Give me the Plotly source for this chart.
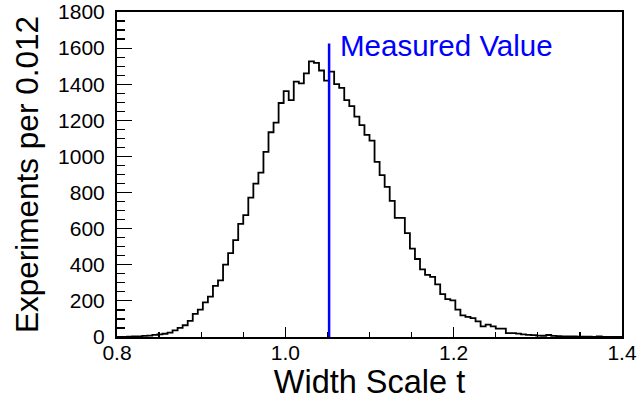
import plotly.graph_objects as go

# Histogram definition: 100 bins from 0.8 to 1.4
bin_lo = 0.8
bin_width = 0.006
counts = [
    1, 1, 2, 3, 4, 6, 8, 12, 14, 18,
    24, 37, 50, 65, 89, 128, 152, 192, 224, 283,
    314, 401, 464, 537, 627, 675, 772, 850, 910, 1025,
    1134, 1187, 1296, 1362, 1312, 1414, 1405, 1460, 1527, 1518,
    1476, 1420, 1470, 1400, 1380, 1312, 1279, 1220, 1174, 1120,
    1088, 970, 896, 832, 754, 660, 660, 575, 490, 432,
    374, 344, 333, 292, 238, 210, 203, 152, 120, 111,
    104, 87, 59, 69, 59, 46, 46, 22, 22, 19,
    15, 12, 10, 8, 7, 11, 6, 5, 4, 3,
    3, 2, 2, 2, 1, 3, 1, 1, 0, 1,
]
measured_value = 1.052
measured_line_top = 1625
measured_label = "Measured Value"

x_title = "Width Scale t"
y_title = "Experiments per 0.012"

edges = [bin_lo + i * bin_width for i in range(len(counts) + 1)]
step_x = [edges[0]] + edges
step_y = [0] + counts + [counts[-1]]

font_family = "Liberation Sans, Arial, sans-serif"

fig = go.Figure()
fig.add_trace(go.Scatter(
    x=step_x, y=step_y, mode="lines",
    line=dict(color="black", width=1.8, shape="hv"),
    hoverinfo="skip", showlegend=False,
))
fig.add_trace(go.Scatter(
    x=[measured_value, measured_value], y=[0, measured_line_top], mode="lines",
    line=dict(color="#0000ff", width=2.5),
    hoverinfo="skip", showlegend=False,
))
fig.add_annotation(
    x=measured_value + 0.011, y=1612, xref="x", yref="y",
    text=measured_label, showarrow=False, xanchor="left", yanchor="middle",
    font=dict(family=font_family, size=29.5, color="#0000ff"),
)

fig.update_layout(
    width=638, height=418,
    margin=dict(l=117, r=16, t=12, b=81),
    paper_bgcolor="white", plot_bgcolor="white",
    font=dict(family=font_family, size=21, color="black"),
    showlegend=False,
)
fig.update_xaxes(
    range=[0.8, 1.4], tickmode="linear", tick0=0.8, dtick=0.2,
    tickformat=".1f", automargin=False,
    ticks="inside", ticklen=10, tickwidth=1.2, tickcolor="black",
    minor=dict(tickmode="linear", tick0=0.8, dtick=0.05, ticks="inside", ticklen=5, tickcolor="black", tickwidth=1.2),
    showline=True, linecolor="black", linewidth=2, mirror=True,
    showgrid=False, zeroline=False,
    title=dict(text=x_title, font=dict(size=32.5), standoff=0),
    tickfont=dict(size=21), ticklabelstandoff=-4, ticklabeloverflow="allow",
)
fig.update_yaxes(
    range=[0, 1800], tickmode="linear", tick0=0, dtick=200,
    automargin=False,
    ticks="inside", ticklen=15, tickwidth=1.2, tickcolor="black",
    minor=dict(tickmode="linear", tick0=0, dtick=50, ticks="inside", ticklen=8, tickcolor="black", tickwidth=1.2),
    showline=True, linecolor="black", linewidth=2, mirror=True,
    showgrid=False, zeroline=False,
    title=dict(text=y_title, font=dict(size=31.5), standoff=10),
    tickfont=dict(size=21), ticklabelstandoff=6, ticklabeloverflow="allow",
)

# remove the browser's default 8px page margin so the figure fills the window
fig.write_html(
    "out.html",
    config={"displayModeBar": False, "staticPlot": True},
    post_script="document.body.style.margin='0px';",
)
